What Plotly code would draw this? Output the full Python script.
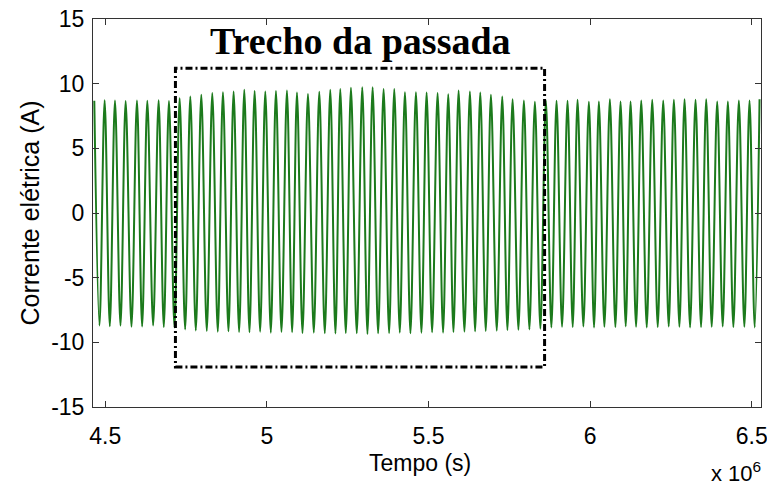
import plotly.graph_objects as go

# ---- data (time in units of 1e6 s, current in A) ----
peak_t = [4.466, 4.498, 4.530, 4.563, 4.598, 4.630, 4.665, 4.697, 4.730, 4.763,
          4.797, 4.831, 4.864, 4.897, 4.930, 4.962, 4.995, 5.028, 5.062, 5.093,
          5.127, 5.162, 5.196, 5.227, 5.260, 5.295, 5.327, 5.361, 5.394, 5.427,
          5.461, 5.494, 5.528, 5.561, 5.593, 5.628, 5.660, 5.693, 5.728, 5.760,
          5.795, 5.829, 5.863, 5.896, 5.930, 5.961, 5.996, 6.027, 6.061, 6.094,
          6.125, 6.158, 6.192, 6.226, 6.259, 6.292, 6.326, 6.359, 6.393, 6.426,
          6.460, 6.493, 6.524]
peak_v = [8.68, 8.72, 8.70, 8.66, 8.70, 8.68, 8.72, 8.66, 8.88, 9.00,
          9.14, 9.27, 9.34, 9.39, 9.52, 9.44, 9.39, 9.44, 9.47, 9.31,
          9.21, 9.37, 9.52, 9.58, 9.68, 9.73, 9.73, 9.58, 9.58, 9.34,
          9.34, 9.31, 9.27, 9.19, 9.47, 9.39, 9.31, 9.14, 9.00, 8.80,
          8.70, 8.60, 8.70, 8.67, 8.67, 8.75, 8.60, 8.62, 8.80, 8.62,
          8.62, 8.70, 8.75, 8.70, 8.75, 8.80, 8.75, 8.80, 8.62, 8.62,
          8.70, 8.70, 8.80]
trough_t = [4.482, 4.514, 4.547, 4.581, 4.614, 4.648, 4.681, 4.714, 4.747, 4.780,
            4.814, 4.848, 4.881, 4.914, 4.946, 4.979, 5.012, 5.045, 5.078, 5.110,
            5.145, 5.179, 5.212, 5.244, 5.278, 5.311, 5.344, 5.378, 5.411, 5.444,
            5.478, 5.511, 5.545, 5.577, 5.611, 5.644, 5.677, 5.711, 5.744, 5.778,
            5.812, 5.846, 5.880, 5.913, 5.946, 5.979, 6.012, 6.044, 6.078, 6.110,
            6.142, 6.175, 6.209, 6.243, 6.276, 6.309, 6.343, 6.376, 6.410, 6.443,
            6.477, 6.509]
trough_v = [-8.70, -8.75, -8.72, -8.80, -8.78, -8.70, -8.82, -8.85, -9.00, -9.08,
            -9.12, -9.18, -9.15, -9.20, -9.22, -9.18, -9.25, -9.20, -9.22, -9.28,
            -9.25, -9.30, -9.32, -9.28, -9.30, -9.35, -9.30, -9.28, -9.25, -9.30,
            -9.26, -9.22, -9.25, -9.20, -9.18, -9.15, -9.12, -9.10, -9.05, -9.02,
            -9.00, -8.95, -8.85, -8.80, -8.82, -8.78, -8.85, -8.80, -8.82, -8.78,
            -8.80, -8.85, -8.82, -8.78, -8.80, -8.85, -8.82, -8.80, -8.78, -8.82,
            -8.80, -8.85]

x_tick_vals = [4.5, 5.0, 5.5, 6.0, 6.5]
x_tick_text = ["4.5", "5", "5.5", "6", "6.5"]
y_tick_vals = [-15, -10, -5, 0, 5, 10, 15]
y_tick_text = ["-15", "-10", "-5", "0", "5", "10", "15"]

box_t = [4.717, 5.859]   # highlighted segment ("Trecho da passada")
box_v = [-11.9, 11.2]

SCALE = 1e6

# interleave peaks and troughs
t, v = [], []
for i in range(len(peak_t)):
    t.append(peak_t[i] * SCALE)
    v.append(peak_v[i])
    if i < len(trough_t):
        t.append(trough_t[i] * SCALE)
        v.append(trough_v[i])

fig = go.Figure()
fig.add_trace(go.Scatter(
    x=t, y=v, mode="lines",
    line=dict(color="#1c7a1c", width=2.0, shape="spline", smoothing=1.0),
    hoverinfo="skip", showlegend=False,
))

fig.add_shape(
    type="rect", xref="x", yref="y",
    x0=box_t[0] * SCALE, x1=box_t[1] * SCALE, y0=box_v[0], y1=box_v[1],
    line=dict(color="black", width=3, dash="7px,3px,2px,3px"),
    fillcolor="rgba(0,0,0,0)", layer="above",
)

FONT = "Liberation Sans, Arial, sans-serif"

fig.add_annotation(
    text="<b>Trecho da passada</b>", x=sum(box_t) / 2 * SCALE, y=13.3,
    xref="x", yref="y", showarrow=False, xanchor="center", yanchor="middle",
    font=dict(family="Liberation Serif, Times New Roman, serif", size=38, color="black"),
)
fig.add_annotation(
    text="Tempo (s)", x=0.49, y=-0.145, xref="paper", yref="paper",
    showarrow=False, xanchor="center", yanchor="middle",
    font=dict(family=FONT, size=23, color="black"),
)
fig.add_annotation(
    text="Corrente elétrica (A)", x=-0.095, y=0.5, xref="paper", yref="paper",
    showarrow=False, xanchor="center", yanchor="middle", textangle=-90,
    font=dict(family=FONT, size=25, color="black"),
)
fig.add_annotation(
    text="x 10<sup>6</sup>", x=1.003, y=-0.168, xref="paper", yref="paper",
    showarrow=False, xanchor="right", yanchor="middle",
    font=dict(family=FONT, size=22, color="black"),
)

axis_common = dict(
    showline=True, linecolor="#333333", linewidth=1, mirror="ticks",
    ticks="inside", ticklen=6, tickcolor="#333333", tickwidth=1,
    showgrid=False, zeroline=False, ticklabeloverflow="allow", automargin=False,
    tickfont=dict(family=FONT, size=23, color="black"),
)

fig.update_xaxes(
    range=[4.462 * SCALE, 6.5285 * SCALE],
    tickvals=[val * SCALE for val in x_tick_vals], ticktext=x_tick_text,
    ticklabelstandoff=8,
    **axis_common,
)
fig.update_yaxes(
    range=[-15, 15], tickvals=y_tick_vals, ticktext=y_tick_text,
    ticklabelstandoff=3,
    **axis_common,
)

fig.update_layout(
    width=767, height=486,
    margin=dict(l=93, r=6, t=19, b=79),
    paper_bgcolor="white", plot_bgcolor="white",
)

fig.write_html("out.html")
